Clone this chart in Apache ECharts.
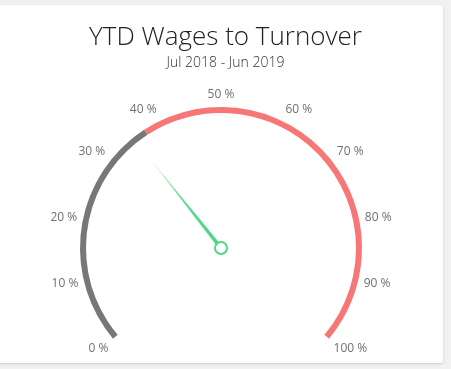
<!DOCTYPE html>
<html>
<head>
<meta charset="utf-8">
<script src="https://cdn.jsdelivr.net/npm/echarts@6/dist/echarts.min.js"></script>
<style>
  html, body { margin: 0; padding: 0; background: #f1f1f1; width: 451px; height: 369px; overflow: hidden; }
  #card { position: absolute; left: -10px; top: 5px; width: 453px; height: 358px; background: #fff; border-radius: 3px; box-shadow: 0 1px 3px rgba(0,0,0,0.16); }
  #chart { position: absolute; left: 0; top: 0; width: 451px; height: 369px; }
</style>
</head>
<body>
<div id="card"></div>
<div id="chart"></div>
<script>
// Data
const titleText = 'YTD Wages to Turnover';
const subtitleText = 'Jul 2018 - Jun 2019';
const gaugeValue = [35.2];
const axisMin = 0;
const axisMax = 100;
const tickStep = 10;
const bandStops = [0.373, 1];
const bandColors = ['#777777', '#f77777'];

const START = 220, END = -40;
const SPAN = START - END; // 260 degrees
const CENTER = [221, 248];
const RADIUS = 141;

const chart = echarts.init(document.getElementById('chart'), null, { renderer: 'canvas' });
const option = {
  backgroundColor: 'transparent',
  title: {
    text: titleText,
    subtext: subtitleText,
    left: 'center',
    top: 20,
    itemGap: 5,
    textStyle: { fontFamily: 'Open Sans', fontWeight: 300, fontSize: 26, color: '#222' },
    subtextStyle: { fontFamily: 'Open Sans', fontWeight: 300, fontSize: 14, color: '#333' }
  },
  // polar axis used only for the outside tick labels (outward alignment)
  polar: { center: CENTER, radius: RADIUS },
  angleAxis: {
    type: 'value',
    startAngle: START,
    clockwise: true,
    min: axisMin,
    max: axisMin + (axisMax - axisMin) * 360 / SPAN,
    interval: tickStep,
    axisLine: { show: false },
    axisTick: { show: false },
    splitLine: { show: false },
    axisLabel: {
      margin: 6,
      color: '#707070',
      fontSize: 12,
      fontFamily: 'Open Sans',
      formatter: v => (v <= axisMax + 1e-6 ? Math.round(v) + ' %' : '')
    }
  },
  radiusAxis: { show: false, min: 0, max: 1 },
  series: [{
    type: 'gauge',
    center: CENTER,
    radius: RADIUS,
    startAngle: START,
    endAngle: END,
    min: axisMin,
    max: axisMax,
    splitNumber: (axisMax - axisMin) / tickStep,
    axisLine: {
      roundCap: false,
      lineStyle: {
        width: 6,
        color: bandStops.map((s, i) => [s, bandColors[i]])
      }
    },
    axisTick: { show: false },
    splitLine: { show: false },
    axisLabel: { show: false },
    pointer: {
      show: true,
      length: '83%',
      width: 2,
      offsetCenter: [0, 0],
      itemStyle: {
        color: {
          type: 'linear', x: 0, y: 0, x2: 1, y2: 1,
          colorStops: [{ offset: 0, color: '#e3f9ec' }, { offset: 0.25, color: '#93e7b4' }, { offset: 0.6, color: '#52d687' }, { offset: 1, color: '#52d687' }]
        }
      }
    },
    anchor: {
      show: true,
      showAbove: true,
      size: 12,
      itemStyle: { color: '#fff', borderColor: '#52d687', borderWidth: 2 }
    },
    title: { show: false },
    detail: { show: false },
    data: gaugeValue.map(v => ({ value: v }))
  }]
};
chart.setOption(option);
</script>
</body>
</html>
